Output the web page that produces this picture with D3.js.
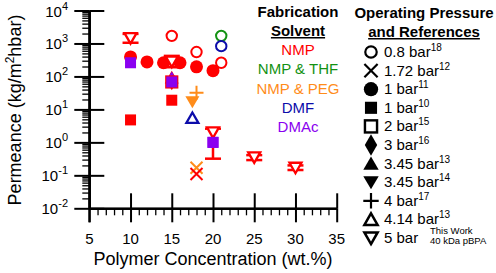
<!DOCTYPE html>
<html>
<head>
<meta charset="utf-8">
<script src="https://cdn.jsdelivr.net/npm/d3@7"></script>
<style>
  body { margin: 0; background: #fff; }
  text { font-family: Arial, "Liberation Sans", sans-serif; }
</style>
</head>
<body>
<div id="chart"></div>
<script>
var width = 496, height = 273;

// categories
var solvents = ["NMP", "NMP & THF", "NMP & PEG", "DMF", "DMAc"];
var solventColors = ["#ff0000", "#139213", "#ff8c1a", "#0c0caa", "#8a00f0"];
var pressures = ["0.8 bar", "1.72 bar", "1 bar", "1 bar", "2 bar", "3 bar",
  "3.45 bar", "3.45 bar", "4 bar", "4.14 bar", "5 bar"];
var refs = ["18", "12", "11", "10", "15", "16", "13", "14", "17", "13", ""];
var shapes = ["circleOpen", "cross", "circle", "square", "squareOpen", "diamond",
  "triUp", "triDown", "plus", "triUpOpen", "triDownOpen"];

// ticks
var xTicks = [5, 10, 15, 20, 25, 30, 35];
var yExps = [-2, -1, 0, 1, 2, 3, 4];

// literature points: [conc wt%, permeance, solvent index, pressure index]
var litPoints = [
  [10, 390, 0, 2], [12, 275, 0, 2], [14, 260, 0, 2], [16, 260, 0, 2],
  [18, 195, 0, 2], [20, 150, 0, 2],
  [15, 1700, 0, 0], [18, 550, 0, 0], [21, 260, 0, 0], [21, 1700, 1, 0], [21, 830, 3, 0],
  [18, 0.17, 2, 1], [18, 0.11, 0, 1],
  [15, 75, 0, 5],
  [15, 90, 4, 6],
  [15, 68, 0, 4],
  [10, 4.8, 0, 3], [15, 19, 0, 3], [10, 260, 4, 3], [15, 68, 4, 3], [20, 1.0, 4, 3],
  [17.5, 17, 2, 7], [18, 32, 2, 8], [17.5, 5.5, 3, 9]
];

// this work (5 bar, NMP) with error range
var workConc = [10, 15, 20, 25, 30];
var workPerm = [1450, 280, 2.0, 0.35, 0.17];
var workLow = [1050, 190, 0.32, 0.29, 0.145];
var workHigh = [1950, 420, 2.6, 0.41, 0.2];

var svg = d3.select("#chart").append("svg")
  .attr("width", width).attr("height", height);

var x = d3.scaleLinear().domain([5, 35]).range([89.3, 336.7]);
var y = d3.scaleLog().domain([1e-2, 1e4]).range([208.3, 10.5]);

// minor ticks
var xMinor = d3.range(5, 35.01, 1).filter(function (d) { return d % 5 !== 0; });
var yMinor = [];
for (var e = -2; e < 4; e++) {
  for (var m = 2; m <= 9; m++) yMinor.push(m * Math.pow(10, e));
}

function styleAxis(g, w) {
  g.select(".domain").attr("stroke", "#000").attr("stroke-width", 2);
  g.selectAll(".tick line").attr("stroke", "#000").attr("stroke-width", w);
  g.selectAll(".tick text").remove();
}

var ox = x(5), oy = y(1e-2);

svg.append("g").attr("transform", "translate(" + ox + ",0)")
  .call(d3.axisLeft(y).tickValues(yMinor).tickSize(7).tickSizeOuter(0).tickFormat(""))
  .call(styleAxis, 1.3);
svg.append("g").attr("transform", "translate(" + ox + ",0)")
  .call(d3.axisLeft(y).tickValues(yExps.map(function (d) { return Math.pow(10, d); }))
    .tickSize(15).tickSizeOuter(0).tickFormat(""))
  .call(styleAxis, 2);
svg.append("g").attr("transform", "translate(" + ox + ",0)")
  .call(d3.axisRight(y).tickValues(yExps.map(function (d) { return Math.pow(10, d); }))
    .tickSize(15).tickSizeOuter(0).tickFormat(""))
  .call(styleAxis, 2);

svg.append("g").attr("transform", "translate(0," + oy + ")")
  .call(d3.axisBottom(x).tickValues(xMinor).tickSize(7).tickSizeOuter(0).tickFormat(""))
  .call(styleAxis, 1.3);
svg.append("g").attr("transform", "translate(0," + oy + ")")
  .call(d3.axisBottom(x).tickValues(xTicks).tickSize(14).tickSizeOuter(0).tickFormat(""))
  .call(styleAxis, 2);
svg.append("g").attr("transform", "translate(0," + oy + ")")
  .call(d3.axisTop(x).tickValues(xTicks).tickSize(15).tickSizeOuter(0).tickFormat(""))
  .call(styleAxis, 2);
// y axis line extends down through x=5 tick
svg.append("line").attr("x1", ox).attr("x2", ox).attr("y1", y(1e4)).attr("y2", oy + 14)
  .attr("stroke", "#000").attr("stroke-width", 2);

// tick labels
yExps.forEach(function (d) {
  var t = svg.append("text").attr("x", 68).attr("y", y(Math.pow(10, d)) + 6)
    .attr("text-anchor", "end").attr("font-size", 15);
  t.append("tspan").text("10");
  t.append("tspan").attr("dy", -7).attr("font-size", 11).text(d);
});
svg.selectAll(".xl").data(xTicks).enter().append("text")
  .attr("x", function (d) { return x(d); }).attr("y", 244)
  .attr("text-anchor", "middle").attr("font-size", 15).text(function (d) { return d; });

// axis titles
svg.append("text").attr("x", x(20)).attr("y", 265).attr("text-anchor", "middle")
  .attr("font-size", 18).text("Polymer Concentration (wt.%)");
var yt = svg.append("text").attr("transform", "translate(21,110) rotate(-90)")
  .attr("text-anchor", "middle").attr("font-size", 18);
yt.append("tspan").text("Permeance (kg/m");
yt.append("tspan").attr("dy", -7).attr("font-size", 12).text("2");
yt.append("tspan").attr("dy", 7).text("hbar)");

// marker drawing
function drawMarker(g, shape, cx, cy, color, k) {
  k = k || 1;
  var s = g.append("g").attr("transform", "translate(" + cx + "," + cy + ") scale(" + k + ")");
  if (shape === "circle") {
    s.append("circle").attr("r", 6.5).attr("fill", color);
  } else if (shape === "circleOpen") {
    s.append("circle").attr("r", 5.2).attr("fill", "none").attr("stroke", color).attr("stroke-width", 2);
  } else if (shape === "square") {
    s.append("rect").attr("x", -5.5).attr("y", -5.5).attr("width", 11).attr("height", 11).attr("fill", color);
  } else if (shape === "squareOpen") {
    s.append("rect").attr("x", -5.5).attr("y", -5.5).attr("width", 11).attr("height", 11)
      .attr("fill", "none").attr("stroke", color).attr("stroke-width", 2.2);
  } else if (shape === "diamond") {
    s.append("path").attr("d", d3.symbol(d3.symbolDiamond, 110)()).attr("fill", color);
  } else if (shape === "triUp") {
    s.append("path").attr("d", "M0,-6.5L7,5.5L-7,5.5Z").attr("fill", color);
  } else if (shape === "triDown") {
    s.append("path").attr("d", "M0,6.5L7,-5.5L-7,-5.5Z").attr("fill", color);
  } else if (shape === "triUpOpen") {
    s.append("path").attr("d", "M0,-5.5L6,5L-6,5Z").attr("fill", "#fff")
      .attr("stroke", color).attr("stroke-width", 2.3).attr("stroke-linejoin", "miter");
  } else if (shape === "triDownOpen") {
    s.append("path").attr("d", "M0,5.5L6,-5L-6,-5Z").attr("fill", "#fff")
      .attr("stroke", color).attr("stroke-width", 2.3).attr("stroke-linejoin", "miter");
  } else if (shape === "plus") {
    s.append("path").attr("d", "M-7,0H7M0,-7V7").attr("stroke", color).attr("stroke-width", 2);
  } else if (shape === "cross") {
    s.append("path").attr("d", "M-6,-6L6,6M6,-6L-6,6").attr("stroke", color).attr("stroke-width", 2);
  }
}

var plot = svg.append("g");

// this work error bars
workConc.forEach(function (c, i) {
  var g = plot.append("g").attr("stroke", solventColors[0]).attr("stroke-width", 2.5);
  g.append("line").attr("x1", x(c)).attr("x2", x(c)).attr("y1", y(workHigh[i])).attr("y2", y(workLow[i]));
  g.append("line").attr("x1", x(c) - 8).attr("x2", x(c) + 8).attr("y1", y(workHigh[i])).attr("y2", y(workHigh[i]));
  g.append("line").attr("x1", x(c) - 8).attr("x2", x(c) + 8).attr("y1", y(workLow[i])).attr("y2", y(workLow[i]));
});

litPoints.forEach(function (p) {
  drawMarker(plot, shapes[p[3]], x(p[0]), y(p[1]), solventColors[p[2]]);
});
workConc.forEach(function (c, i) {
  drawMarker(plot, "triDownOpen", x(c), y(workPerm[i]), solventColors[0]);
});
// purple square drawn above at 20 wt%
drawMarker(plot, "square", x(20), y(1.0), solventColors[4]);

// solvent legend
var lx = 298;
svg.append("text").attr("x", lx).attr("y", 17).attr("text-anchor", "middle")
  .attr("font-size", 15).attr("font-weight", "bold").text("Fabrication");
svg.append("text").attr("x", lx).attr("y", 36).attr("text-anchor", "middle")
  .attr("font-size", 15).attr("font-weight", "bold").attr("text-decoration", "underline").text("Solvent");
svg.selectAll(".sl").data(solvents).enter().append("text")
  .attr("x", lx).attr("y", function (d, i) { return 55 + i * 19.3; })
  .attr("text-anchor", "middle").attr("font-size", 15)
  .attr("fill", function (d, i) { return solventColors[i]; })
  .text(function (d) { return d; });

// pressure legend
var px = 424;
svg.append("text").attr("x", px).attr("y", 18).attr("text-anchor", "middle")
  .attr("font-size", 15).attr("font-weight", "bold").text("Operating Pressure");
svg.append("text").attr("x", px).attr("y", 37).attr("text-anchor", "middle")
  .attr("font-size", 15).attr("font-weight", "bold").attr("text-decoration", "underline").text("and References");

pressures.forEach(function (d, i) {
  var cy = 52 + i * 18.6;
  drawMarker(svg, shapes[i], 371, cy, "#000", 1.1);
  var t = svg.append("text").attr("x", 384).attr("y", cy + 5).attr("font-size", 15);
  t.append("tspan").text(d);
  if (refs[i]) t.append("tspan").attr("dy", -6).attr("font-size", 10).text(refs[i]);
});
svg.append("text").attr("x", 430).attr("y", 234).attr("font-size", 9.5).text("This Work");
svg.append("text").attr("x", 430).attr("y", 244).attr("font-size", 9.5).text("40 kDa pBPA");
</script>
</body>
</html>
